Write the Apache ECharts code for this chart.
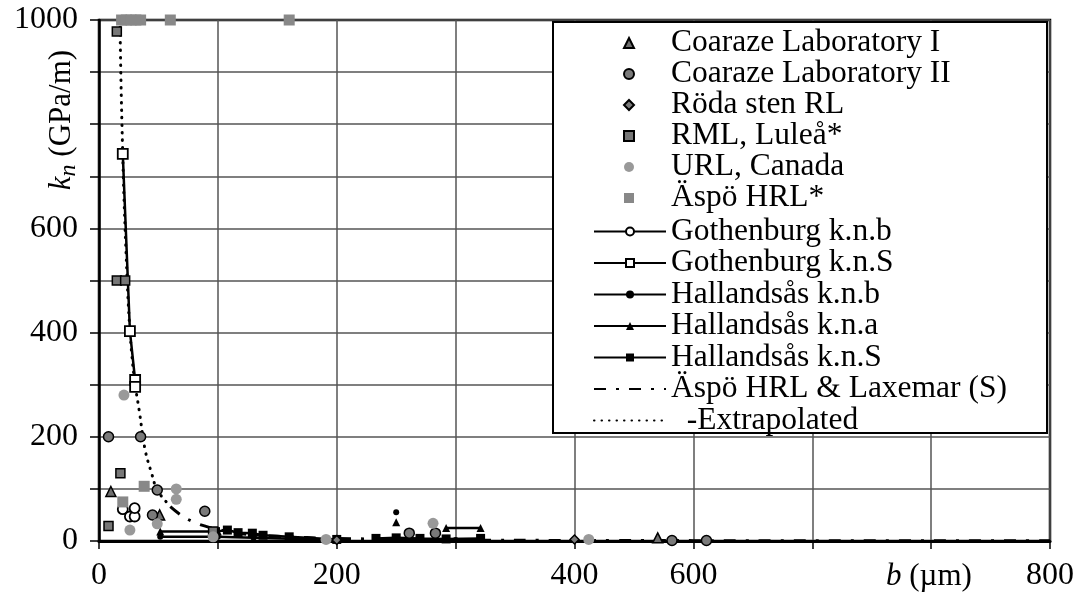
<!DOCTYPE html>
<html>
<head>
<meta charset="utf-8">
<script src="https://cdn.jsdelivr.net/npm/echarts@6/dist/echarts.min.js"></script>
<style>html,body{margin:0;padding:0;background:#fff}#c{width:1078px;height:602px}</style>
</head>
<body>
<div id="c"></div>
<script>
// ---- data ----
var xTickValues = [0, 200, 400, 500, 800];
var xTickLabels = ['0', '200', '400', '600', '800'];
var yTickValues = [0, 200, 400, 600, 1000];
var yTickLabels = ['0', '200', '400', '600', '1000'];

var coarazeI = [[10, 95], [51, 50], [470, 6]];
var coarazeII = [[8, 200], [35, 200], [49, 98], [45, 50], [89, 57], [261, 15], [283, 15], [482, 1], [511, 1]];
var rodaSten = [[200, 2], [400, 3]];
var rmlLulea = [[15, 978], [15, 500], [22, 500], [18, 130], [8, 29], [96, 18]];
var urlCanada = [[21, 280], [65, 100], [65, 80], [26, 21], [49, 33], [96, 8], [191, 3], [281, 34], [412, 3]];
var aspoHRL = [[19, 1000], [23, 1000], [27, 1000], [31, 1000], [35, 1000], [60, 1000], [160, 1000], [20, 75], [38, 105]];

var gothB = [[20, 61], [26, 47], [30, 47], [30, 63]];
var gothS = [[20, 743], [26, 403], [30.4, 309], [30.4, 296]];
var hallB = [[51.5, 8], [100, 8], [130, 6], [200, 2], [225, null], [250, 55], [252, null], [233, 3], [262, 3], [300, 2], [320, 2]];
var hallA = [[51.5, 18], [100, 18], [101, null], [250, 36], [251, null], [292, 25], [321, 25]];
var hallS = [[98, 18], [108, 21], [117, 16], [129, 15], [138, 11], [160, 8], [200, 3], [215, null], [233, 5], [250, 6], [270, 5], [292, 4], [321, 5]];
var aspoLaxemar = [[60, 66], [70, 48], [80, 36], [90, 28], [100, 22], [120, 14], [150, 9], [200, 5], [300, 2], [400, 1.1], [600, 0.5], [800, 0.25]];
var extrapolated = [[17.6, 1000], [18.5, 880], [19.7, 765], [21, 660], [23, 540], [25, 440], [27.5, 360], [30.4, 300], [33.8, 251], [38.8, 175], [44.5, 128], [48.7, 98], [52.9, 85], [57.4, 73], [60, 66]];

var FONT = '"Liberation Serif", "Times New Roman", serif';

function lookup(vals, labels, v) {
  var i = vals.indexOf(v);
  return i >= 0 ? labels[i] : '';
}

function scatter(name, data, symbol, size, color, border) {
  return {
    name: name, type: 'scatter', data: data, symbol: symbol, symbolSize: size,
    symbolKeepAspect: true, clip: false, z: 5,
    itemStyle: { color: color, borderColor: border ? '#000' : color, borderWidth: border ? 1.5 : 0, opacity: 1 }
  };
}
function line(name, data, symbol, size, fill) {
  return {
    name: name, type: 'line', data: data, symbol: symbol, symbolSize: size, showSymbol: true,
    connectNulls: false, clip: false, z: 4,
    lineStyle: { color: '#000', width: 2.5 },
    itemStyle: { color: fill, borderColor: '#000', borderWidth: fill === '#fff' ? 1.8 : 0 }
  };
}

var scatterSeries = [
  scatter('Coaraze Laboratory I', coarazeI, 'triangle', 10, '#6e6e6e', true),
  scatter('Coaraze Laboratory II', coarazeII, 'circle', 10, '#7a7a7a', true),
  scatter('Röda sten RL', rodaSten, 'diamond', 9, '#7a7a7a', true),
  scatter('RML, Luleå*', rmlLulea, 'rect', 9, '#777777', true),
  scatter('URL, Canada', urlCanada, 'circle', 11, '#999999', false),
  scatter('Äspö HRL*', aspoHRL, 'rect', 11, '#888888', false)
];
var lineSeries = [
  line('Gothenburg k.n.b', gothB, 'circle', 10, '#fff'),
  line('Gothenburg k.n.S', gothS, 'rect', 10, '#fff'),
  line('Hallandsås k.n.b', hallB, 'circle', 6, '#000'),
  line('Hallandsås k.n.a', hallA, 'triangle', 8, '#000'),
  line('Hallandsås k.n.S', hallS, 'rect', 9, '#000'),
  {
    name: 'Äspö HRL & Laxemar (S)', type: 'line', data: aspoLaxemar, symbol: 'none', smooth: 0.4,
    z: 3, lineStyle: { color: '#000', width: 3, type: [12, 10, 3, 10] }, itemStyle: { color: '#000' }
  },
  {
    name: '  -Extrapolated', type: 'line', data: extrapolated, symbol: 'none', smooth: 0.4,
    z: 3, lineStyle: { color: '#000', width: 3, type: [0.5, 7], cap: 'round' }, itemStyle: { color: '#000' }
  }
];
var series = scatterSeries.concat(lineSeries);

var legendTextStyle = { fontFamily: FONT, fontSize: 31.5, color: '#000' };

var chart = echarts.init(document.getElementById('c'), null, { renderer: 'canvas' });
chart.setOption({
  animation: false,
  backgroundColor: '#fff',
  grid: { left: 99, right: 28, top: 20, bottom: 61, show: true, borderColor: '#000', borderWidth: 2.5, backgroundColor: 'transparent' },
  xAxis: {
    type: 'value', min: 0, max: 800, interval: 100,
    axisLine: { show: true, onZero: false, lineStyle: { color: '#000', width: 3 } },
    axisTick: { show: true, length: 8, lineStyle: { color: '#000', width: 1.5 } },
    splitLine: { show: true, lineStyle: { color: '#555', width: 1.5 } },
    axisLabel: {
      fontFamily: FONT, fontSize: 32, color: '#000', margin: 19, showMaxLabel: true, showMinLabel: true,
      formatter: function (v) { return lookup(xTickValues, xTickLabels, v); }
    }
  },
  yAxis: {
    type: 'value', min: 0, max: 1000, interval: 100,
    axisLine: { show: true, onZero: false, lineStyle: { color: '#000', width: 2.5 } },
    axisTick: { show: true, length: 9, lineStyle: { color: '#000', width: 1.5 } },
    splitLine: { show: true, lineStyle: { color: '#555', width: 1.5 } },
    axisLabel: {
      fontFamily: FONT, fontSize: 32, color: '#000', margin: 21,
      formatter: function (v) { return lookup(yTickValues, yTickLabels, v); }
    }
  },
  legend: [
    {
      orient: 'vertical', left: 623, top: 27, padding: 0, itemGap: -1, itemWidth: 10, itemHeight: 10,
      textStyle: Object.assign({ padding: [0, 0, 0, 32] }, legendTextStyle),
      data: scatterSeries.map(function (s) { return s.name; }), selectedMode: false, z: 10
    },
    {
      orient: 'vertical', left: 593, top: 215.5, padding: 0, itemGap: -0.5, itemWidth: 72, itemHeight: 10,
      textStyle: legendTextStyle,
      data: lineSeries.map(function (s) {
        return s.symbol === 'none' ? { name: s.name, itemStyle: { opacity: 0 } } : { name: s.name };
      }),
      selectedMode: false, z: 10
    }
  ],
  graphic: [
    {
      type: 'rect', z: 8, shape: { x: 553, y: 22, width: 494, height: 411 },
      style: { fill: '#fff', stroke: '#000', lineWidth: 2 }
    },
    {
      type: 'text', x: 62, y: 120, rotation: Math.PI / 2, z: 20,
      style: {
        text: '{k|k}{n|n}{t| (GPa/m)}', align: 'center', verticalAlign: 'middle', fill: '#000',
        fontFamily: FONT, fontSize: 31,
        rich: {
          k: { fontFamily: FONT, fontSize: 31, fontStyle: 'italic', lineHeight: 38, verticalAlign: 'middle' },
          n: { fontFamily: FONT, fontSize: 24, fontStyle: 'italic', lineHeight: 24, verticalAlign: 'bottom' },
          t: { fontFamily: FONT, fontSize: 31, lineHeight: 38, verticalAlign: 'middle' }
        }
      }
    },
    {
      type: 'text', x: 886, y: 577, z: 20,
      style: {
        text: '{b|b}{t| (µm)}', align: 'left', verticalAlign: 'middle', fill: '#000',
        fontFamily: FONT, fontSize: 31,
        rich: {
          b: { fontFamily: FONT, fontSize: 31, fontStyle: 'italic' },
          t: { fontFamily: FONT, fontSize: 31 }
        }
      }
    }
  ],
  series: series
});
</script>
</body>
</html>
